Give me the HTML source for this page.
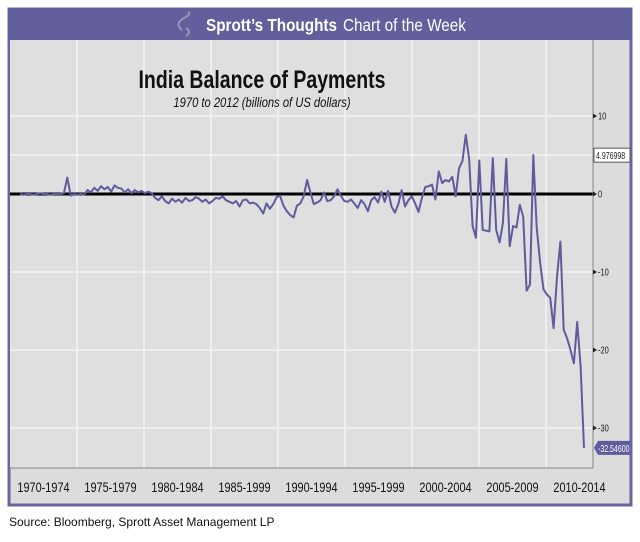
<!DOCTYPE html>
<html><head><meta charset="utf-8"><style>
body{margin:0;background:#fff;width:640px;height:537px;overflow:hidden;font-family:"Liberation Sans",sans-serif}
</style></head><body>
<svg width="640" height="537" xmlns="http://www.w3.org/2000/svg">
<rect x="9" y="9" width="622" height="496" fill="#dcdcdd" stroke="#6a64a0" stroke-width="3"/>
<rect x="8" y="8" width="624" height="32" fill="#635e9c"/>
<path d="M182 30 q-8 -6 2 -12 q8 -4 4 -6 M186 36 q6 -4 0 -8" stroke="#9a96b8" stroke-width="2" fill="none"/>
<text x="206" y="31" fill="#fff" font-size="18" font-weight="bold" transform="translate(206 0) scale(0.85 1) translate(-206 0)">Sprott’s Thoughts</text>
<text x="343" y="31" fill="#fff" font-size="18" transform="translate(343 0) scale(0.85 1) translate(-343 0)">Chart of the Week</text>
<rect x="10" y="40" width="583" height="428" fill="#dfdfe0"/>
<g id="grid"></g>
<text x="262" y="88" text-anchor="middle" font-size="25" font-weight="bold" fill="#111" transform="translate(262 0) scale(0.78 1) translate(-262 0)">India Balance of Payments</text>
<text x="262" y="107" text-anchor="middle" font-size="14" font-style="italic" fill="#111" transform="translate(262 0) scale(0.8 1) translate(-262 0)">1970 to 2012 (billions of US dollars)</text>
<g id="marks"></g>
<line x1="593" y1="40" x2="593" y2="468" stroke="#888" stroke-width="1"/>
<line x1="10" y1="468" x2="593" y2="468" stroke="#888" stroke-width="1"/>
<g id="labels"></g>
<text x="9" y="526" font-size="12" fill="#111">Source:  Bloomberg, Sprott Asset Management LP</text>
</svg>
<script>
const periods=["1970-1974","1975-1979","1980-1984","1985-1999","1990-1994","1995-1999","2000-2004","2005-2009","2010-2014"];
const yTicks=[10,0,-10,-20,-30];
const values70s=[0,-0.1,0,0,-0.1,0,0.1,0,0,-0.1,0,0,0,0.1,2.1,-0.2,0,-0.1,0,-0.1,
0.5,0.2,0.8,0.4,1.0,0.6,0.9,0.3,1.1,0.8,0.7,0.2,0.6,0.1,0.5,0.2,0.4,0.1,0.3,0.1];
const values80s=[-0.5,-0.8,-0.3,-0.9,-1.2,-0.6,-1.0,-0.7,-1.1,-0.5,-0.9,-0.8,-0.4,-0.6,-1.0,-0.7,-1.2,-0.9,-0.5,-0.6,
-0.3,-0.8,-1.0,-1.2,-0.9,-1.6,-0.8,-0.7,-1.2,-1.1,-1.3,-1.8,-2.5,-1.2,-1.9,-1.3,-0.4,-0.2,-1.5,-2.2];
const values90s=[-2.7,-3.0,-1.5,-1.2,-0.3,1.8,0.2,-1.3,-1.1,-0.8,0.2,-0.9,-0.8,-0.3,0.6,-0.2,-0.9,-1.0,-0.7,-1.2,
-1.8,-0.8,-1.3,-2.2,-0.8,-0.4,-1.1,0.3,-1.0,0.4,-1.6,-2.4,-1.3,0.5,-1.6,-0.8,-0.3,-1.2,-2.3,-0.5];
const values00s=[0.9,1.0,1.2,-0.7,2.9,1.4,1.8,1.6,2.2,-0.3,3.3,4.2,7.6,4.4,-4.1,-5.6,4.3,-4.6,-4.7,-4.8,
4.6,-4.6,-6.2,-3.7,4.5,-6.7,-4.1,-4.3,-1.4,-2.9,-12.4,-11.6,5.0,-4.3,-8.8,-12.2,-12.9,-13.3,-17.2,-10.6];
const values10s=[-6.1,-17.4,-18.5,-20,-21.7,-16.4,-22.1,-32.546];
const values=values70s.concat(values80s,values90s,values00s,values10s);
const NS="http://www.w3.org/2000/svg";
const yS=v=>194-v*7.8;
const xS=i=>20+i*(564/(values.length-1));
const grid=document.getElementById('grid'),marks=document.getElementById('marks'),labels=document.getElementById('labels');
function mk(tag,attrs,parent){const e=document.createElementNS(NS,tag);for(const k in attrs)e.setAttribute(k,attrs[k]);parent.appendChild(e);return e;}
periods.forEach((p,k)=>{
  const x=10+k*67;
  if(k>0){const g=mk('line',{x1:x,y1:40,x2:x,y2:468,stroke:'#f4f4f4','stroke-width':1.5},grid);
  
  }
  const t=mk('text',{x:x+33.5,y:492,'text-anchor':'middle','font-size':14,fill:'#111',transform:`translate(${x+33.5} 0) scale(0.78 1) translate(${-(x+33.5)} 0)`},labels);
  t.textContent=p;
  
  
});
yTicks.concat([5]).forEach(v=>{
  if(v===0)return;
  const g=mk('line',{x1:10,y1:yS(v),x2:593,y2:yS(v),stroke:'#f4f4f4','stroke-width':1.5},grid);
  
  
});
yTicks.forEach(v=>{
  const y=yS(v);
  const m=mk('path',{d:`M593 ${y-2.5} L597 ${y} L593 ${y+2.5}Z`,fill:'#222'},labels);
  
  
  const t=mk('text',{x:598,y:y+3.5,'font-size':10,fill:'#222',transform:`translate(598 0) scale(0.75 1) translate(-598 0)`},labels);
  t.textContent=String(v);
  
  
});
const zero=mk('line',{x1:10,y1:yS(0),x2:593,y2:yS(0),stroke:'#000','stroke-width':3},marks);


const pl=mk('polyline',{points:values.map((v,i)=>xS(i).toFixed(1)+','+yS(v).toFixed(1)).join(' '),fill:'none',stroke:'#5f5b9d','stroke-width':2,'stroke-linejoin':'round'},marks);


// value callouts
const hiV=4.976998, lastV=values[values.length-1];
const b1=mk('rect',{x:594,y:yS(hiV)-7,width:36,height:14,fill:'#fff',stroke:'#555','stroke-width':1},labels);


const t1=mk('text',{x:596,y:yS(hiV)+4,'font-size':10,fill:'#222',transform:`translate(596 0) scale(0.7 1) translate(-596 0)`},labels);
t1.textContent=hiV.toFixed(6);


const b2=mk('path',{d:`M594 ${yS(lastV)} L598 ${yS(lastV)-7} L630 ${yS(lastV)-7} L630 ${yS(lastV)+7} L598 ${yS(lastV)+7}Z`,fill:'#5f5b9d'},labels);


const t2=mk('text',{x:598,y:yS(lastV)+4,'font-size':10,fill:'#fff',transform:`translate(598 0) scale(0.7 1) translate(-598 0)`},labels);
t2.textContent=lastV.toFixed(5);


</script>
</body></html>
